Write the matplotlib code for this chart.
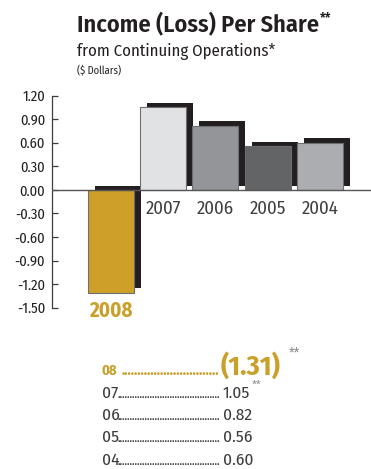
import numpy as np
import matplotlib.pyplot as plt

# donnees
annees = ["2008", "2007", "2006", "2005", "2004"]
bpa = [-1.31, 1.05, 0.82, 0.56, 0.60]
couleurs = ["#cfa027", "#e1e2e4", "#939598", "#636466", "#abadb0"]
graduations = [1.20, 0.90, 0.60, 0.30, 0.00, -0.30, -0.60, -0.90, -1.20, -1.50]
etiquettes_tab = ["08", "07", "06", "05", "04"]

OR = "#c9a02a"
GRIS = "#3d3d3d"
NOIR = "#231f20"
plt.rcParams["font.family"] = ["Fira Sans Condensed", "DejaVu Sans"]

W, H = 371, 469
fig = plt.figure(figsize=(W / 100, H / 100), dpi=100)
rend = fig.canvas.get_renderer()


def fx(px):
    return px / W


def fy(py):
    return 1 - py / H


def pointilles(x0, x1, yy, **kw):
    """remplit l'espace x0..x1 (pixels) de points"""
    t = fig.text(fx(x0), yy, ".", va="baseline", **kw)
    n = 1
    while t.get_window_extent(rend).width < (x1 - x0):
        n += 1
        t.set_text("." * n)
    t.set_text("." * (n - 1))


# axe : spine a x=52 px, 1.20 a y=95.7, -1.50 a y=307.7
ax = fig.add_axes([fx(52), fy(307.7), fx(371 - 52), (307.7 - 95.7) / H])
pas = 52.4
ax.set_xlim((52 - 110.5) / pas, (371 - 110.5) / pas)
ax.set_ylim(-1.5, 1.2)

x = np.arange(len(annees))
larg = 46 / pas
dx = 7 / pas
dy = 0.055

# ombres
ax.bar(x + dx, bpa, width=larg, bottom=dy, color=NOIR, zorder=1)
# barres
ax.bar(x, bpa, width=larg, color=couleurs, edgecolor="#6d6e71",
       linewidth=0.8, zorder=2)
ax.axhline(0, color="#555555", linewidth=1.0, zorder=3)

for i, a in enumerate(annees):
    if bpa[i] < 0:
        ax.text(x[i], -1.5 - 0.04, a, ha="center", va="center",
                fontsize=15, fontweight="bold", color=OR, clip_on=False)
    else:
        ax.text(x[i], -0.235, a, ha="center", va="center",
                fontsize=13.5, fontweight="normal", color="#404040")

for s in ["top", "right", "bottom"]:
    ax.spines[s].set_visible(False)
ax.spines["left"].set_color(GRIS)
ax.spines["left"].set_linewidth(0.9)
ax.set_xticks([])
ax.set_yticks(graduations)
ax.set_yticklabels(["%.2f" % g for g in graduations])
ax.tick_params(axis="y", direction="in", length=4.3, width=0.9,
               colors=GRIS, labelsize=10.5, pad=5)
for t in ax.get_yticklabels():
    t.set_color(NOIR)

# titres
titre = fig.text(fx(77), fy(32), "Income (Loss) Per Share", fontsize=17.5,
                 fontweight="semibold", color=NOIR, va="baseline")
bb = titre.get_window_extent(rend)
fig.text(bb.x1 / W + 0.003, fy(22), "**", fontsize=10, fontweight="semibold",
         color=NOIR, va="baseline")
fig.text(fx(77), fy(56), "from Continuing Operations*", fontsize=12,
         color=NOIR, va="baseline")
fig.text(fx(77), fy(73), "($ Dollars)", fontsize=7.5, color=NOIR,
         va="baseline")

# tableau
bases = [375, 398, 420, 442, 465]
for i, lab in enumerate(etiquettes_tab):
    yy = fy(bases[i])
    if i == 0:
        fig.text(fx(102), yy, lab, fontsize=10.5, fontweight="bold",
                 color=OR, va="baseline")
        pointilles(122, 220, yy, fontsize=10.5, fontweight="bold", color=OR)
        v = fig.text(fx(221), yy, "(%.2f)" % abs(bpa[i]), fontsize=20,
                     fontweight="bold", color=OR, va="baseline")
        bb = v.get_window_extent(rend)
        fig.text(bb.x1 / W + 0.02, fy(358), "**", fontsize=10,
                 color="#8a8a8a", va="baseline")
    else:
        fig.text(fx(102), yy, lab, fontsize=12.5, fontweight="normal",
                 color=GRIS, va="baseline")
        pointilles(118, 222, yy, fontsize=8, fontweight="medium", color=GRIS)
        v = fig.text(fx(223), yy, "%.2f" % bpa[i], fontsize=12.5,
                     fontweight="normal", color=GRIS, va="baseline")
        if i == 1:
            bb = v.get_window_extent(rend)
            fig.text(bb.x1 / W + 0.004, fy(388), "**", fontsize=8.5,
                     color="#8a8a8a", va="baseline")

fig.savefig("out.png", dpi=100)
